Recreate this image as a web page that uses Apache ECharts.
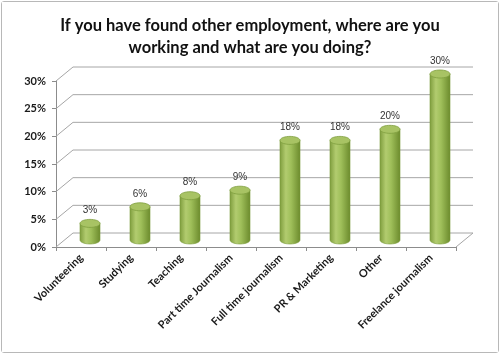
<!DOCTYPE html>
<html><head><meta charset="utf-8">
<script src="https://cdn.jsdelivr.net/npm/echarts@6/dist/echarts.min.js"></script>
<style>
html,body{margin:0;padding:0;background:#fff;}
#c{position:absolute;left:1px;top:1px;width:496px;height:350px;border:1px solid #b8b8b8;border-radius:3px;}
</style></head><body>
<div id="c"></div>
<script>
const titleText = 'If you have found other employment, where are you\nworking and what are you doing?';
const categories = ['Volunteering','Studying','Teaching','Part time Journalism','Full time journalism','PR & Marketing','Other','Freelance journalism'];
const values = [3, 6, 8, 9, 18, 18, 20, 30];
const yTicks = [0, 5, 10, 15, 20, 25, 30];

const DX = 17, DY = -14; // 3D depth offset

const chart = echarts.init(document.getElementById('c'), null, {renderer:'canvas'});

function wallItem(params, api) {
  const cs = params.coordSys;
  const v = api.value(1);
  const y = api.coord([0, v])[1];
  const x0 = cs.x, x1 = cs.x + cs.width;
  const st = {stroke:'#a6a6a6', lineWidth:1};
  const kids = [
    {type:'line', shape:{x1:x0, y1:y, x2:x0+DX, y2:y+DY}, style:st},
    {type:'line', shape:{x1:x0+DX, y1:y+DY, x2:x1+DX, y2:y+DY}, style:st}
  ];
  if (v === 0) {
    kids.push({type:'line', shape:{x1:x1, y1:y, x2:x1+DX, y2:y+DY}, style:st});
  }
  return {type:'group', children:kids};
}

function ellipsePts(cx, cy, rx, ry, a0, a1, n) {
  const pts = [];
  for (let k = 0; k <= n; k++) {
    const a = a0 + (a1 - a0) * k / n;
    pts.push([cx + rx * Math.cos(a), cy + ry * Math.sin(a)]);
  }
  return pts;
}

function barItem(params, api) {
  const i = api.value(0), v = api.value(1);
  const top = api.coord([i, v]);
  const bot = api.coord([i, 0]);
  const cx = top[0] + DX / 2 + 0.5;
  const ty = top[1] + DY / 2;
  const by = bot[1] + DY / 2;
  const rx = api.size([1, 0])[0] * 0.2;
  const ry = 4;
  const side = [[cx - rx, ty]].concat(ellipsePts(cx, by, rx, ry, Math.PI, 0, 24)).concat([[cx + rx, ty]]);
  const grad = new echarts.graphic.LinearGradient(0, 0, 1, 0, [
    {offset:0, color:'#7d9c3c'},
    {offset:0.3, color:'#b2cc6f'},
    {offset:0.55, color:'#9fbf5a'},
    {offset:1, color:'#6b8a2c'}
  ]);
  return {type:'group', children:[
    {type:'polygon', shape:{points:side}, style:{fill:grad, stroke:'#7a9a39', lineWidth:0.6}},
    {type:'polygon', shape:{points:ellipsePts(cx, ty, rx, ry, 0, Math.PI*2, 36)},
      style:{fill:'#a8c364', stroke:'#7f9e3f', lineWidth:0.8}},
    {type:'text', x:cx, y:ty - ry - 9, style:{text:v + '%', fill:'#333333',
      font:'normal 10px "Liberation Sans", Arial, sans-serif', align:'center', verticalAlign:'middle'}}
  ]};
}

chart.setOption({
  animation:false,
  backgroundColor:'#ffffff',
  title:{
    text:titleText, left:'center', top:8,
    textStyle:{fontFamily:'Lato', fontWeight:'bold', fontSize:16.5, lineHeight:22, color:'#111'}
  },
  grid:{left:54, right:42, top:79, bottom:105},
  xAxis:{
    type:'category', data:categories,
    axisLine:{show:true, lineStyle:{color:'#8c8c8c'}},
    axisTick:{show:true, length:4, lineStyle:{color:'#8c8c8c'}},
    axisLabel:{rotate:45, margin:9, interval:0, fontFamily:'Lato', fontWeight:'bold', fontSize:11, color:'#1a1a1a'},
    splitLine:{show:false}
  },
  yAxis:{
    type:'value', min:0, max:30, interval:5,
    axisLine:{show:true, lineStyle:{color:'#8c8c8c'}},
    axisTick:{show:true, length:4, lineStyle:{color:'#8c8c8c'}},
    axisLabel:{formatter:'{value}%', margin:10, fontFamily:'Lato', fontWeight:'bold', fontSize:11, color:'#1a1a1a'},
    splitLine:{show:false}
  },
  series:[
    {type:'custom', renderItem:wallItem, data:yTicks.map(v => [0, v]), encode:{x:0, y:1}, z:1, silent:true},
    {type:'custom', renderItem:barItem, data:values.map((v, i) => [i, v]), encode:{x:0, y:1}, z:3, silent:true}
  ]
});
</script>
</body></html>
